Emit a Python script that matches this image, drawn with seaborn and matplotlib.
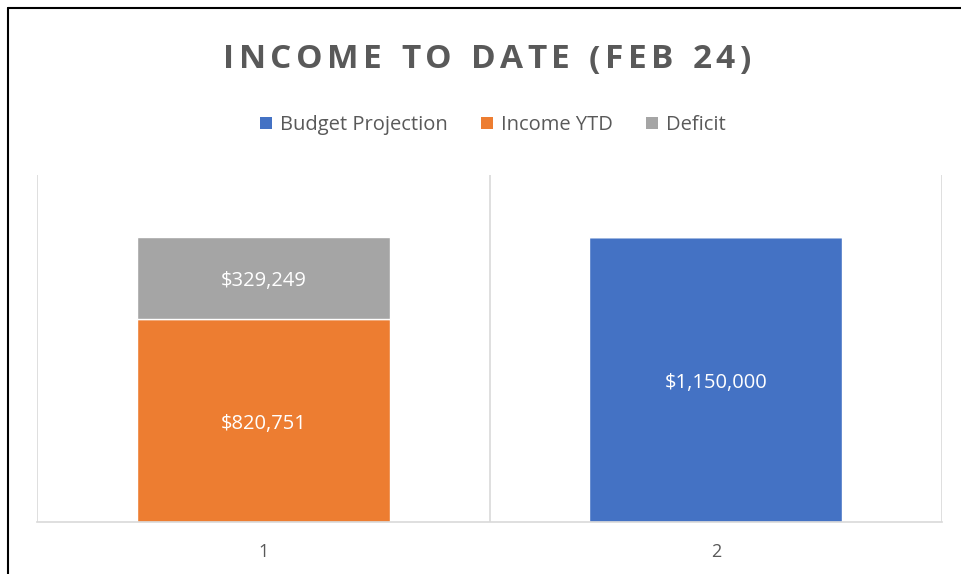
import numpy as np
import pandas as pd
import matplotlib
matplotlib.use("Agg")
import matplotlib.pyplot as plt
import seaborn as sns
from matplotlib.patches import Patch
from matplotlib.lines import Line2D

# ---- data ----
categories = ["1", "2"]
budget_projection = [0, 1150000]
income_ytd = [820751, 0]
deficit = [329249, 0]

series_names = ["Budget Projection", "Income YTD", "Deficit"]
colors = ["#4472C4", "#ED7D31", "#A5A5A5"]
title = "INCOME TO DATE (FEB 24)"

sns.set_theme(style="white")
plt.rcParams['font.family'] = ['Open Sans', 'DejaVu Sans']

df = pd.DataFrame({"cat": categories, "Budget Projection": budget_projection,
                   "Income YTD": income_ytd, "Deficit": deficit})

W, H = 961, 574
fig = plt.figure(figsize=(W / 100, H / 100), dpi=100)
ax = fig.add_axes([37/W, 1 - 522/H, (942 - 37)/W, (522 - 175)/H])

bottom = np.zeros(len(categories))
for name, col in zip(series_names, colors):
    vals = df[name].to_numpy()
    sns.barplot(data=df, x="cat", y=name, order=categories, color=col,
                width=0.56, bottom=bottom, ax=ax, saturation=1, errorbar=None)
    for i, v in enumerate(vals):
        if v > 0:
            ax.annotate(f"${v:,.0f}", (i, bottom[i] + v / 2), xytext=(0, -2.5),
                        textcoords="offset points", ha="center", va="center",
                        color="white", fontsize=14.5)
    bottom = bottom + vals

ax.set_xlim(-0.5, 1.5)
ax.set_ylim(0, 1400000)
ax.set_xlabel("")
ax.set_ylabel("")
ax.set_yticks([])
ax.tick_params(axis="x", length=0, pad=15, labelsize=13, colors="#595959")
for s in ["top", "right", "left"]:
    ax.spines[s].set_visible(False)
ax.spines["bottom"].set_color("#D9D9D9")
ax.spines["bottom"].set_linewidth(1.2)
for xv in [-0.5, 0.5, 1.5]:
    ax.axvline(xv, color="#D9D9D9", lw=1.2, zorder=0)

# title with letter spacing (drawn char by char)
renderer = fig.canvas.get_renderer()
spacing = 4.5  # px between letters
tkw = dict(fontsize=24, fontweight="bold", color="#595959", va="center", ha="left")
widths = []
for ch in title:
    t = fig.text(0, 0, ch if ch != " " else "I", **tkw)
    w = t.get_window_extent(renderer).width
    if ch == " ":
        w *= 0.9
    widths.append(w)
    t.remove()
total = sum(widths) + spacing * (len(title) - 1)
x = (222 + 752) / 2 - total / 2
for ch, w in zip(title, widths):
    if ch != " ":
        fig.text(x / W, 1 - 60 / H, ch, **tkw)
    x += w + spacing

handles = [Patch(facecolor=c, edgecolor="none") for c in colors]
fig.legend(handles, series_names, loc="center", bbox_to_anchor=(493/W, 1 - 125/H),
           ncol=3, frameon=False, fontsize=14.5, labelcolor="#595959",
           handlelength=0.6, handleheight=0.6, handletextpad=0.4, columnspacing=1.65)

# outer border (left and top edges visible)
fig.add_artist(Line2D([7.5/W, 7.5/W], [0, 1 - 8/H], color="black", lw=1.5))
fig.add_artist(Line2D([7.5/W, 1], [1 - 8/H, 1 - 8/H], color="black", lw=1.5))

fig.savefig("out.png", dpi=100)
